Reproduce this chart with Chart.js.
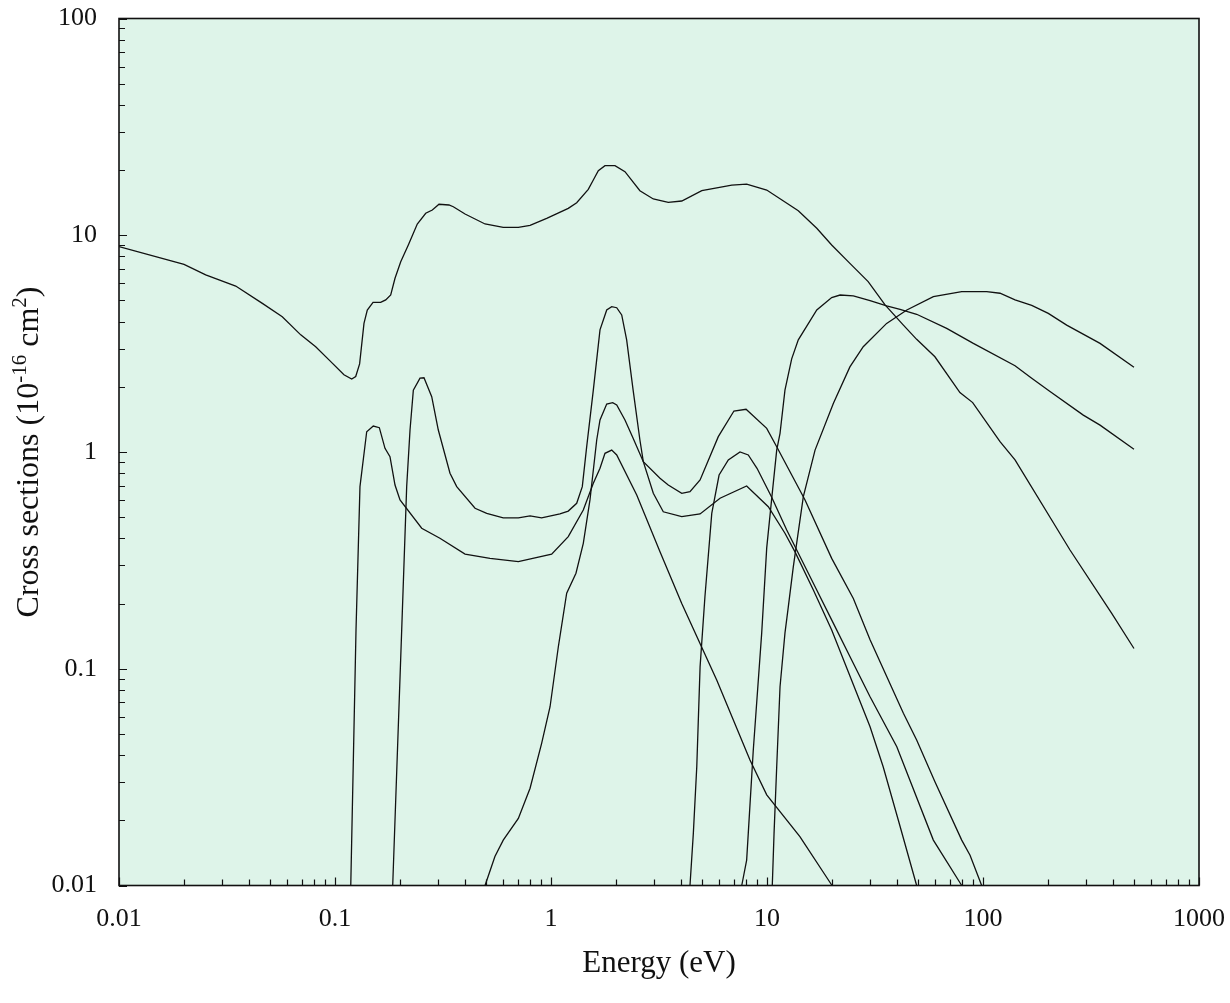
<!DOCTYPE html>
<html>
<head>
<meta charset="utf-8">
<title>Cross sections</title>
<script src="https://cdn.jsdelivr.net/npm/chart.js@4.4.1/dist/chart.umd.min.js"></script>
<style>
  html, body { margin: 0; padding: 0; background: #fff; }
  #chart { display: block; }
</style>
</head>
<body>
<canvas id="chart" width="1230" height="1003"></canvas>
<script>
// Axis ticks
const xTickValues = [0.01, 0.1, 1, 10, 100, 1000];
const xTickLabels = ['0.01', '0.1', '1', '10', '100', '1000'];
const yTickValues = [0.01, 0.1, 1, 10, 100];
const yTickLabels = ['0.01', '0.1', '1', '10', '100'];

// Momentum transfer (energy in eV, cross section in 1e-16 cm2)
const momE = [0.01, 0.02, 0.0252, 0.0347, 0.0461, 0.057, 0.0694, 0.0814, 0.0938, 0.11, 0.1195, 0.1247, 0.13, 0.1362, 0.1411,
  0.15, 0.1627, 0.1717, 0.1811, 0.1896, 0.2015, 0.2185, 0.2404, 0.263, 0.2822, 0.303, 0.337, 0.353, 0.40, 0.495, 0.601,
  0.706, 0.80, 0.955, 1.202, 1.315, 1.488, 1.57, 1.656, 1.778, 1.978, 2.20, 2.58, 2.976, 3.49, 4.03, 4.99, 6.87, 8.05,
  9.97, 13.96, 17.0, 19.93, 24.2, 29.4, 35.2, 42.8, 49.3, 59.9, 78.2, 89.6, 119.9, 140.7, 252.8, 394.4, 500];
const momQ = [8.86, 7.34, 6.56, 5.83, 4.85, 4.21, 3.47, 3.06, 2.66, 2.27, 2.17, 2.23, 2.55, 3.92, 4.52,
  4.90, 4.90, 5.03, 5.30, 6.33, 7.55, 9.02, 11.27, 12.63, 13.08, 13.90, 13.79, 13.54, 12.53, 11.27, 10.88,
  10.88, 11.11, 11.97, 13.31, 14.13, 16.29, 17.98, 19.85, 20.94, 20.94, 19.64, 16.05, 14.70, 14.19, 14.39, 16.05, 17.05, 17.23,
  16.17, 12.98, 10.77, 9.02, 7.42, 6.11, 4.77, 3.85, 3.31, 2.75, 1.88, 1.69, 1.116, 0.919, 0.353, 0.180, 0.124];

// Vibrational excitation, lowest threshold
const vibAE = [0.1183, 0.1251, 0.1305, 0.1402, 0.1504, 0.1604, 0.1704, 0.1797, 0.1896, 0.20, 0.252, 0.306, 0.40, 0.522, 0.706,
  1.007, 1.202, 1.411, 1.57, 1.686, 1.778, 1.91, 2.015, 2.494, 3.196, 4.03, 5.85, 8.34, 9.97, 14.2, 20.0];
const vibAQ = [0.01, 0.151, 0.692, 1.24, 1.318, 1.295, 1.04, 0.951, 0.704, 0.601, 0.445, 0.40, 0.338, 0.323, 0.312,
  0.338, 0.407, 0.54, 0.717, 0.841, 0.986, 1.02, 0.969, 0.633, 0.347, 0.20, 0.0887, 0.0379, 0.0262, 0.0168, 0.01];

// Vibrational excitation, second threshold
const vibBE = [0.185, 0.2036, 0.2147, 0.2225, 0.2305, 0.2475, 0.2582, 0.2804, 0.3008, 0.3407, 0.366, 0.445, 0.504, 0.601, 0.706,
  0.80, 0.905, 1.10, 1.202, 1.315, 1.396, 1.463, 1.57, 1.686, 1.811, 1.91, 2.015, 2.125, 2.24, 2.40, 2.58, 2.675, 2.976,
  3.31, 4.03, 4.90, 6.06, 8.05, 10.14, 12.11, 13.48, 16.39, 19.93, 30.0, 34.5, 40.5, 49.3];
const vibBQ = [0.01, 0.151, 0.692, 1.263, 1.93, 2.19, 2.20, 1.80, 1.263, 0.798, 0.692, 0.55, 0.521, 0.497, 0.497,
  0.507, 0.497, 0.518, 0.534, 0.58, 0.692, 1.058, 1.93, 3.66, 4.52, 4.68, 4.63, 4.29, 3.29, 1.93, 1.136, 0.902, 0.645,
  0.53, 0.503, 0.518, 0.612, 0.697, 0.559, 0.422, 0.346, 0.231, 0.151, 0.054, 0.0353, 0.0201, 0.01];

// Vibrational excitation, third threshold
const vibCE = [0.495, 0.55, 0.601, 0.706, 0.80, 0.905, 0.99, 1.081, 1.182, 1.305, 1.411, 1.515, 1.628, 1.686, 1.811,
  1.93, 2.015, 2.20, 2.40, 2.675, 3.196, 3.49, 4.03, 4.40, 4.90, 5.95, 7.03, 8.0, 9.97, 11.09, 15.0, 19.93, 25.1,
  30.0, 42.8, 49.3, 59.9, 79.7, 87.1, 98.6];
const vibCQ = [0.01, 0.0136, 0.0162, 0.0204, 0.0281, 0.0453, 0.0668, 0.126, 0.223, 0.276, 0.379, 0.601, 1.136, 1.405, 1.665,
  1.689, 1.647, 1.405, 1.157, 0.902, 0.756, 0.704, 0.645, 0.656, 0.743, 1.177, 1.546, 1.574, 1.286, 1.058, 0.601, 0.323, 0.211,
  0.136, 0.0623, 0.0469, 0.0301, 0.0162, 0.0138, 0.01];

// Electronic excitation
const excAE = [4.40, 4.56, 4.73, 4.90, 5.16, 5.55, 6.0, 6.62, 7.50, 8.19, 8.99, 10.5, 12.34, 16.39, 20.3, 24.2, 30.0, 39.9, 58.9, 79.7];
const excAQ = [0.01, 0.0174, 0.0353, 0.102, 0.215, 0.521, 0.783, 0.919, 1.0, 0.969, 0.841, 0.62, 0.437, 0.248, 0.162, 0.114, 0.0743, 0.0437, 0.0162, 0.01];

const excBE = [7.64, 8.05, 8.19, 8.64, 9.45, 9.97, 10.5, 11.09, 11.49, 12.11, 13.01, 13.96, 17.0, 19.93, 21.8, 25.1, 30.0,
  35.8, 41.3, 49.3, 67.9, 90.2, 140.7, 168.1, 204.3, 291.3, 348.2, 500];
const excBQ = [0.01, 0.0131, 0.0174, 0.0422, 0.146, 0.361, 0.601, 1.02, 1.22, 1.93, 2.69, 3.29, 4.52, 5.16, 5.30, 5.25, 4.99,
  4.72, 4.55, 4.32, 3.72, 3.17, 2.50, 2.19, 1.90, 1.48, 1.33, 1.03];

// Ionization
const ionE = [10.58, 10.78, 11.09, 11.49, 12.11, 12.55, 13.24, 14.73, 16.69, 20.3, 24.2, 27.9, 35.8, 44.4, 58.9, 79.7, 104,
  119.9, 140.7, 168.1, 200.6, 244, 348.2, 500];
const ionQ = [0.01, 0.0174, 0.0353, 0.0826, 0.146, 0.193, 0.296, 0.622, 1.02, 1.68, 2.47, 3.06, 3.92, 4.52, 5.21, 5.49, 5.49,
  5.40, 5.03, 4.75, 4.36, 3.85, 3.17, 2.46];

const FONT = '"Liberation Serif", "Times New Roman", serif';
const INK = '#111';
const PLOT_BG = 'rgb(222, 244, 233)';

// Plot box edges inside the canvas
const PLOT_TOP = 18.5;
const PLOT_RIGHT_GAP = 31;
const Y_AXIS_WIDTH = 119;
const X_AXIS_HEIGHT = 117.5;

function toPoints(xs, ys) {
  return xs.map((x, i) => ({ x: x, y: ys[i] }));
}

const curves = [
  [momE, momQ], [vibAE, vibAQ], [vibBE, vibBQ], [vibCE, vibCQ],
  [excAE, excAQ], [excBE, excBQ], [ionE, ionQ]
];

const datasets = curves.map(([xs, ys]) => ({
  data: toPoints(xs, ys),
  borderColor: INK,
  borderWidth: 1.3,
  pointRadius: 0,
  tension: 0,
  fill: false
}));

// Mint fill behind the curves
const plotBackground = {
  id: 'plotBackground',
  beforeDraw(chart) {
    const { ctx, chartArea: a } = chart;
    ctx.save();
    ctx.fillStyle = PLOT_BG;
    ctx.fillRect(a.left, a.top, a.width, a.height);
    ctx.restore();
  }
};

// Box around the plot plus inward major/minor ticks on the left and bottom
const frameTicks = {
  id: 'frameTicks',
  afterDraw(chart) {
    const { ctx, chartArea: a, scales } = chart;
    ctx.save();
    ctx.strokeStyle = INK;
    ctx.lineWidth = 1.2;
    ctx.beginPath();
    xTickValues.forEach((dec, i) => {
      for (let m = 1; m <= 9; m++) {
        if (m > 1 && i === xTickValues.length - 1) continue;
        const px = Math.round(scales.x.getPixelForValue(dec * m)) + 0.5;
        const len = m === 1 ? 8 : 6;
        ctx.moveTo(px, a.bottom);
        ctx.lineTo(px, a.bottom - len);
      }
    });
    yTickValues.forEach((dec, i) => {
      for (let m = 1; m <= 9; m++) {
        if (m > 1 && i === yTickValues.length - 1) continue;
        const py = Math.round(scales.y.getPixelForValue(dec * m)) + 0.5;
        const len = m === 1 ? 8 : 6;
        ctx.moveTo(a.left, py);
        ctx.lineTo(a.left + len, py);
      }
    });
    ctx.stroke();
    ctx.lineWidth = 1.6;
    ctx.strokeRect(a.left, a.top, a.width, a.height);
    ctx.restore();
  }
};

// Vertical axis title with superscripts
const yAxisTitle = {
  id: 'yAxisTitle',
  afterDraw(chart) {
    const { ctx, chartArea: a } = chart;
    const big = 32, small = 21, rise = 12;
    const parts = [
      { text: 'Cross sections (10', size: big, up: 0 },
      { text: '-16', size: small, up: rise },
      { text: ' cm', size: big, up: 0 },
      { text: '2', size: small, up: rise },
      { text: ')', size: big, up: 0 }
    ];
    ctx.save();
    ctx.fillStyle = INK;
    ctx.textBaseline = 'alphabetic';
    ctx.textAlign = 'left';
    let total = 0;
    parts.forEach(p => {
      ctx.font = p.size + 'px ' + FONT;
      p.w = ctx.measureText(p.text).width;
      total += p.w;
    });
    ctx.translate(38, (a.top + a.bottom) / 2);
    ctx.rotate(-Math.PI / 2);
    let x = -total / 2;
    parts.forEach(p => {
      ctx.font = p.size + 'px ' + FONT;
      ctx.fillText(p.text, x, -p.up);
      x += p.w;
    });
    ctx.restore();
  }
};

new Chart(document.getElementById('chart'), {
  type: 'line',
  data: { datasets: datasets },
  plugins: [plotBackground, frameTicks, yAxisTitle],
  options: {
    responsive: false,
    animation: false,
    devicePixelRatio: 1,
    layout: { padding: 0 },
    plugins: { legend: { display: false }, tooltip: { enabled: false } },
    scales: {
      x: {
        type: 'logarithmic',
        min: 0.01,
        max: 1000,
        grid: { display: false, drawTicks: false },
        border: { display: false },
        afterBuildTicks: s => { s.ticks = xTickValues.map(v => ({ value: v })); },
        afterFit: s => {
          s.height = X_AXIS_HEIGHT;
          s.paddingLeft = 0;
          s.paddingRight = PLOT_RIGHT_GAP;
        },
        ticks: {
          autoSkip: false,
          maxRotation: 0,
          minRotation: 0,
          padding: 18,
          color: INK,
          font: { family: FONT, size: 26 },
          callback: v => xTickLabels[xTickValues.indexOf(v)]
        },
        title: {
          display: true,
          text: 'Energy (eV)',
          color: INK,
          font: { family: FONT, size: 31 },
          padding: { top: 0, bottom: 21 }
        }
      },
      y: {
        type: 'logarithmic',
        min: 0.01,
        max: 100,
        grid: { display: false, drawTicks: false },
        border: { display: false },
        afterBuildTicks: s => { s.ticks = yTickValues.map(v => ({ value: v })); },
        afterFit: s => {
          s.width = Y_AXIS_WIDTH;
          s.paddingTop = PLOT_TOP;
          s.paddingBottom = 0;
        },
        ticks: {
          autoSkip: false,
          padding: 22,
          color: INK,
          font: { family: FONT, size: 26 },
          callback: v => yTickLabels[yTickValues.indexOf(v)]
        }
      }
    }
  }
});
</script>
</body>
</html>
